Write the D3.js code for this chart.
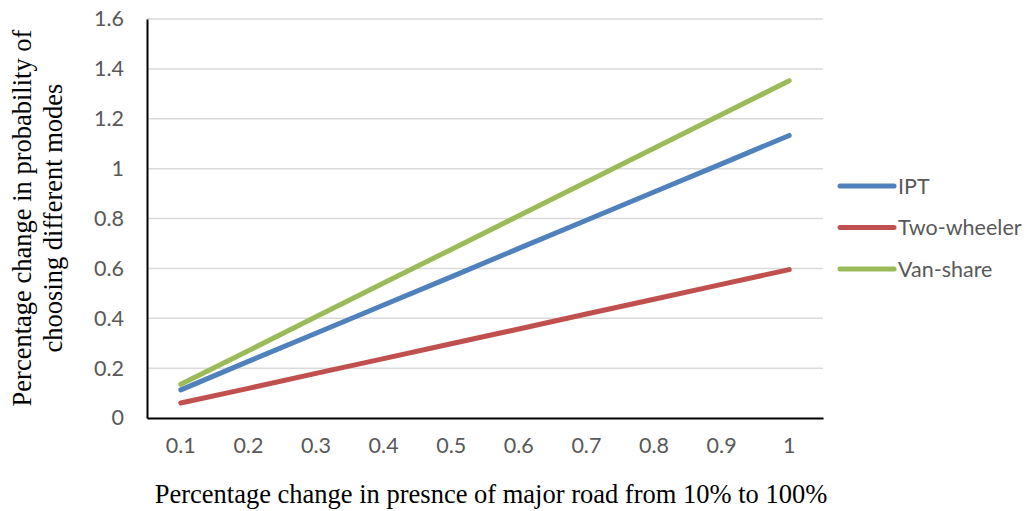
<!DOCTYPE html>
<html>
<head>
<meta charset="utf-8">
<script src="https://cdn.jsdelivr.net/npm/d3@7"></script>
<style>
  html, body { margin: 0; padding: 0; background: #fff; }
  svg { display: block; }
</style>
</head>
<body>
<svg id="chart" width="1032" height="511"></svg>
<script>
// Change in road presence (category axis)
const categories = ["0.1", "0.2", "0.3", "0.4", "0.5", "0.6", "0.7", "0.8", "0.9", "1"];

// Percentage change in probability for each mode
const ipt        = [0.113, 0.227, 0.340, 0.453, 0.566, 0.680, 0.793, 0.906, 1.019, 1.133];
const twoWheeler = [0.060, 0.119, 0.179, 0.238, 0.298, 0.357, 0.417, 0.476, 0.536, 0.595];
const vanShare   = [0.135, 0.270, 0.406, 0.541, 0.676, 0.811, 0.946, 1.082, 1.217, 1.352];

const seriesNames = ["IPT", "Two-wheeler", "Van-share"];
const yTicks = [0, 0.2, 0.4, 0.6, 0.8, 1, 1.2, 1.4, 1.6];

const series = [
  { name: seriesNames[0], values: ipt,        color: "#4F81BD" },
  { name: seriesNames[1], values: twoWheeler, color: "#C0504D" },
  { name: seriesNames[2], values: vanShare,   color: "#9BBB59" }
];

const svg = d3.select("#chart");
const plot = { left: 147, right: 823, top: 19, bottom: 418 };

const x = d3.scaleBand().domain(categories).range([plot.left, plot.right]);
const y = d3.scaleLinear().domain([0, 1.6]).range([plot.bottom, plot.top]);

const labelFont = "Lato, 'Open Sans', sans-serif";
const labelSize = 21.5;
const titleFont = "'Liberation Serif', 'Times New Roman', serif";
const titleSize = 26.5;

// Horizontal gridlines
svg.append("g")
  .selectAll("line")
  .data(yTicks.filter(d => d > 0))
  .join("line")
  .attr("x1", plot.left).attr("x2", plot.right)
  .attr("y1", d => y(d)).attr("y2", d => y(d))
  .attr("stroke", "#d9d9d9").attr("stroke-width", 1.5);

// Y axis
const yAxis = svg.append("g")
  .attr("transform", `translate(${plot.left},0)`)
  .call(d3.axisLeft(y).tickValues(yTicks).tickSize(0).tickPadding(23).tickFormat(d3.format("~g")));
yAxis.select(".domain").attr("stroke", "#000").attr("stroke-width", 2);
yAxis.selectAll("text")
  .attr("font-family", labelFont).attr("font-size", labelSize).attr("fill", "#595959");

// X axis
const xAxis = svg.append("g")
  .attr("transform", `translate(0,${plot.bottom})`)
  .call(d3.axisBottom(x).tickSize(0).tickPadding(20));
xAxis.select(".domain").attr("stroke", "#000").attr("stroke-width", 2);
xAxis.selectAll("text")
  .attr("font-family", labelFont).attr("font-size", labelSize).attr("fill", "#595959");

// Series lines
const line = d3.line()
  .x((d, i) => x(categories[i]) + x.bandwidth() / 2)
  .y(d => y(d));

svg.append("g")
  .selectAll("path")
  .data(series)
  .join("path")
  .attr("d", d => line(d.values))
  .attr("fill", "none")
  .attr("stroke", d => d.color)
  .attr("stroke-width", 5)
  .attr("stroke-linecap", "round")
  .attr("stroke-linejoin", "round");

// Legend
const legendY = d3.scalePoint().domain(seriesNames).range([186, 269]);
const legend = svg.append("g")
  .selectAll("g")
  .data(series)
  .join("g")
  .attr("transform", d => `translate(840,${legendY(d.name)})`);
legend.append("line")
  .attr("x1", 0).attr("x2", 54)
  .attr("stroke", d => d.color).attr("stroke-width", 5)
  .attr("stroke-linecap", "round");
legend.append("text")
  .attr("x", 58).attr("dy", "0.35em")
  .attr("font-family", labelFont).attr("font-size", labelSize).attr("fill", "#595959")
  .text(d => d.name);

// Axis titles
svg.append("text")
  .attr("x", 491)
  .attr("y", 503)
  .attr("text-anchor", "middle")
  .attr("font-family", titleFont).attr("font-size", titleSize).attr("fill", "#000")
  .text("Percentage change in presnce of major road from 10% to 100%");

const yTitle = svg.append("text")
  .attr("transform", "translate(0,218) rotate(-90)")
  .attr("text-anchor", "middle")
  .attr("font-family", titleFont).attr("font-size", titleSize).attr("fill", "#000");
yTitle.append("tspan").attr("x", 0).attr("y", 31).text("Percentage change in probability of");
yTitle.append("tspan").attr("x", 0).attr("y", 62).text("choosing different modes");
</script>
</body>
</html>
